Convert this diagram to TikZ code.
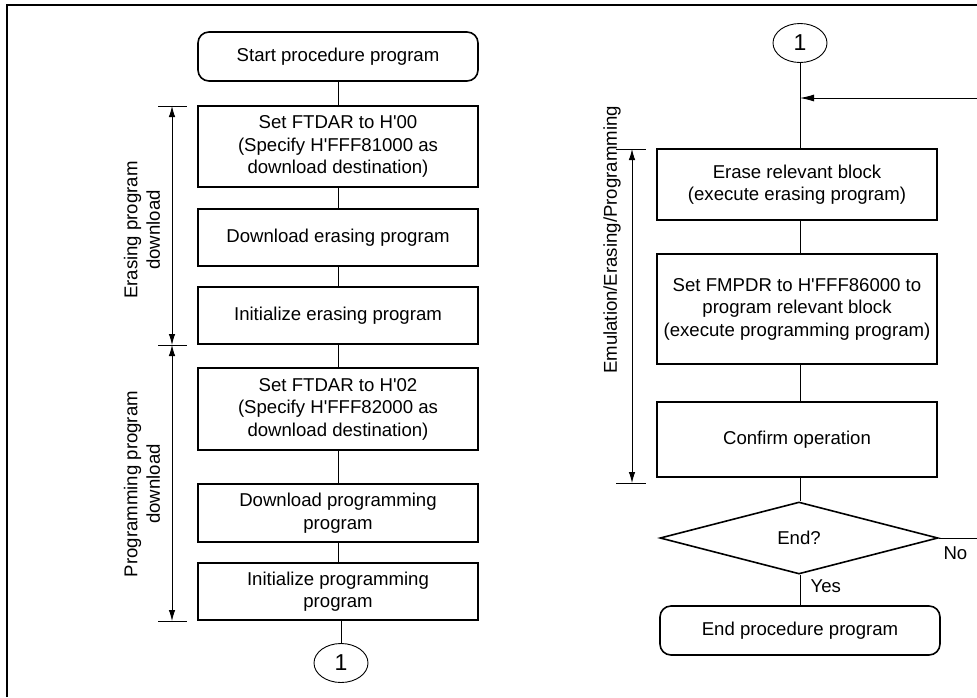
\documentclass[tikz,border=0pt]{standalone}
\usepackage{fontspec}
\setmainfont{Liberation Sans}[Ligatures=TeXOff]
\usetikzlibrary{shapes.geometric,arrows.meta}
\begin{document}
\begin{tikzpicture}[x=1pt,y=-1pt,
  txt/.style={font=\fontsize{18.6}{22.5}\selectfont},
  proc/.style={txt,draw,line width=1.6pt,rectangle,inner sep=0pt,align=center,minimum width=280pt},
  term/.style={proc,rounded corners=11pt},
  conn/.style={font=\fontsize{23}{26}\selectfont,ellipse,draw,line width=0.9pt,minimum width=54pt,minimum height=39pt,inner sep=0pt},
  decide/.style={txt,diamond,draw,line width=1.6pt,minimum width=278pt,minimum height=72pt,inner sep=0pt},
  flow/.style={line width=0.9pt},
  dim/.style={line width=0.9pt,{Latex[length=11pt,width=6.5pt]}-{Latex[length=11pt,width=6.5pt]}},
  tick/.style={line width=0.9pt},
  lbl/.style={txt,align=center,rotate=90}]
\useasboundingbox (0,0) rectangle (977,697);

% frame
\draw[line width=2pt] (7,697) -- (7,5) -- (977,5);

% ---------- left column: downloads ----------
\node[term,minimum height=49pt] (start) at (338,56.5) {Start procedure program};
\node[proc,minimum height=81pt] (ftdar0) at (338,146.5) {Set FTDAR to H'00\\(Specify H'FFF81000 as\\download destination)};
\node[proc,minimum height=57pt] (dlerase) at (338,237.5) {Download erasing program};
\node[proc,minimum height=57pt] (initerase) at (338,315.5) {Initialize erasing program};
\node[proc,minimum height=82pt] (ftdar2) at (338,409) {Set FTDAR to H'02\\(Specify H'FFF82000 as\\download destination)};
\node[proc,minimum height=58pt] (dlprog) at (338,513) {Download programming\\program};
\node[proc,minimum height=57pt] (initprog) at (338,591.5) {Initialize programming\\program};
\node[conn] (c1a) at (341,663) {1};

\draw[flow] (start) -- (ftdar0);
\draw[flow] (ftdar0) -- (dlerase);
\draw[flow] (dlerase) -- (initerase);
\draw[flow] (initerase) -- (ftdar2);
\draw[flow] (ftdar2) -- (dlprog);
\draw[flow] (dlprog) -- (initprog);
\draw[flow] (initprog.south -| c1a.north) -- (c1a);

% dimension marks of the download phases
\coordinate (eTop) at (172,106);
\coordinate (eBot) at (172,345);
\coordinate (pBot) at (172,621);
\draw[tick] (158,106) -- (187,106);
\draw[tick] (158,345) -- (187,345);
\draw[tick] (158,621) -- (187,621);
\draw[dim] (eTop) -- (eBot);
\draw[dim] (eBot) -- (pBot);
\node[lbl] (elbl) at (142,230) {Erasing program\\download};
\node[lbl] (plbl) at (142,484) {Programming program\\download};

% ---------- right column: erase / program loop ----------
\node[conn] (c1b) at (800,43) {1};
\node[proc,minimum height=71pt] (erase) at (797,184.5) {Erase relevant block\\(execute erasing program)};
\node[proc,minimum height=110pt] (program) at (797,309) {Set FMPDR to H'FFF86000 to\\program relevant block\\(execute programming program)};
\node[proc,minimum height=75pt] (confirm) at (797,439.5) {Confirm operation};
\node[decide] (endq) at (799,538) {End?};
\node[term,minimum height=49pt] (finish) at (800,630.5) {End procedure program};

\coordinate (join) at (800,98);
\coordinate (loopR) at (977,98);
\coordinate (noR) at (977,538);

\draw[flow] (c1b) -- (erase.north -| c1b.south);
\draw[flow] (erase.south -| c1b.south) -- (program.north -| c1b.south);
\draw[flow] (program.south -| c1b.south) -- (confirm.north -| c1b.south);
\draw[flow] (confirm.south -| c1b.south) -- (endq.north -| c1b.south);
\draw[flow] (endq.south -| c1b.south) -- (finish.north -| c1b.south);
\draw[flow] (endq.east) -- (noR);
\draw[flow,-{Latex[length=14pt,width=7pt]}] (loopR) -- (join);

\node[txt,anchor=west] (yes) at (807,586) {Yes};
\node[txt,anchor=west] (no) at (940,553) {No};

% dimension mark of the emulation/erasing/programming phase
\coordinate (rTop) at (632,149);
\coordinate (rBot) at (632,483);
\draw[tick] (616,149) -- (646,149);
\draw[tick] (616,483) -- (646,483);
\draw[dim] (rTop) -- (rBot);
\node[lbl] (rlbl) at (612,240) {Emulation/Erasing/Programming};
\end{tikzpicture}
\end{document}
